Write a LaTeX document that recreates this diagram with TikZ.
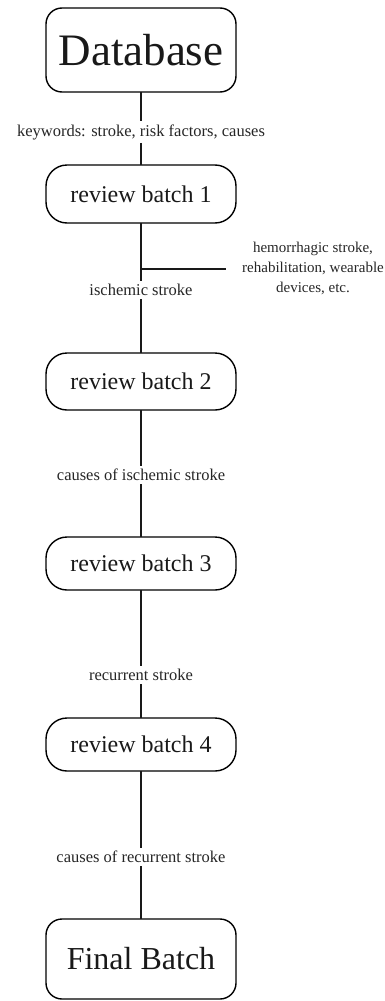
\documentclass[tikz,border=0pt]{standalone}
\usepackage{fontspec}
\setmainfont{Liberation Serif}
\begin{document}
\begin{tikzpicture}[x=1pt,y=-1pt,
  box/.style={draw=black,line width=1.4pt,rectangle,minimum width=190pt,inner sep=0pt,outer sep=0pt,text=black!90},
  lab/.style={fill=white,inner xsep=2pt,inner ysep=3pt,font=\fontsize{16.5}{19}\selectfont,text=black!85},
  conn/.style={line width=1.3pt,draw=black!90}]
\useasboundingbox (0,0) rectangle (385,1001);
\node[box,rounded corners=16pt,minimum height=84pt,font=\fontsize{45}{54}\selectfont] (db) at (141,50) {Database};
\node[box,rounded corners=21pt,minimum height=58pt,font=\fontsize{24}{28}\selectfont] (rb1) at (141,194) {review batch 1};
\node[box,rounded corners=21pt,minimum height=57pt,font=\fontsize{24}{28}\selectfont] (rb2) at (141,381.5) {review batch 2};
\node[box,rounded corners=21pt,minimum height=53pt,font=\fontsize{24}{28}\selectfont] (rb3) at (141,563.5) {review batch 3};
\node[box,rounded corners=21pt,minimum height=53pt,font=\fontsize{24}{28}\selectfont] (rb4) at (141,744.5) {review batch 4};
\node[box,rounded corners=16pt,minimum height=80pt,font=\fontsize{32}{38}\selectfont] (fb) at (141,959) {Final Batch};

\node[lab] (l1) at (141,132) {keywords: stroke, risk factors, causes};
\node[lab] (l2) at (141,290) {ischemic stroke};
\node[lab] (l3) at (141,475) {causes of ischemic stroke};
\node[lab] (l4) at (141,675) {recurrent stroke};
\node[lab] (l5) at (141,857) {causes of recurrent stroke};
\node[align=center,inner sep=0pt,font=\fontsize{15}{20}\selectfont,text=black!85] (side) at (313,268) {hemorrhagic stroke,\\rehabilitation, wearable\\devices, etc.};

\coordinate (j) at (141,269);
\coordinate (je) at (226,269);

\draw[conn] (db) -- (l1);
\draw[conn] (l1) -- (rb1);
\draw[conn] (rb1) -- (j) -- (l2);
\draw[conn] (j) -- (je);
\draw[conn] (l2) -- (rb2);
\draw[conn] (rb2) -- (l3);
\draw[conn] (l3) -- (rb3);
\draw[conn] (rb3) -- (l4);
\draw[conn] (l4) -- (rb4);
\draw[conn] (rb4) -- (l5);
\draw[conn] (l5) -- (fb);
\end{tikzpicture}
\end{document}
